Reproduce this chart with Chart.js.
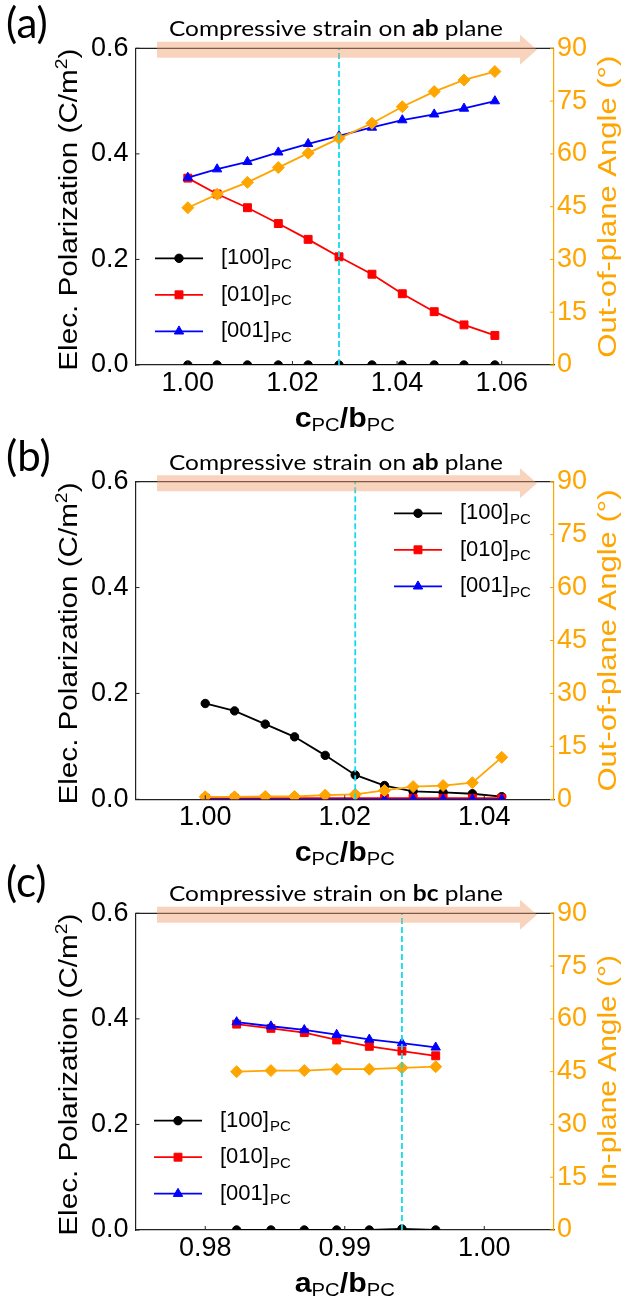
<!DOCTYPE html>
<html>
<head>
<meta charset="utf-8">
<script src="https://cdn.jsdelivr.net/npm/chart.js@4.4.0/dist/chart.umd.min.js"></script>
<style>
html, body { margin: 0; padding: 0; background: #fff; }
canvas { position: absolute; left: 0; display: block; }
</style>
</head>
<body>
<canvas id="panelA" width="627" height="440" style="top:0px"></canvas>
<canvas id="panelB" width="627" height="450" style="top:425px"></canvas>
<canvas id="panelC" width="627" height="455" style="top:850px"></canvas>
<script>
// (a) compressive strain on ab plane, x = c/b
var xA = [1.000, 1.0056, 1.0114, 1.0173, 1.0230, 1.0289, 1.0352, 1.0410, 1.0471, 1.0528, 1.0587];
var p100A = [0, 0, 0, 0, 0, 0, 0, 0, 0, 0, 0];
var p010A = [0.354, 0.324, 0.298, 0.268, 0.238, 0.205, 0.172, 0.135, 0.101, 0.076, 0.056];
var p001A = [0.355, 0.371, 0.385, 0.403, 0.419, 0.434, 0.450, 0.464, 0.475, 0.486, 0.500];
var angleA = [44.7, 48.5, 51.9, 56.1, 60.2, 64.4, 68.7, 73.4, 77.7, 81.0, 83.4];
var cutA = 1.0289;
var xTicksA = [1.00, 1.02, 1.04, 1.06];

// (b) compressive strain on ab plane, second branch
var xB = [1.000, 1.0042, 1.0086, 1.0128, 1.0172, 1.0215, 1.0257, 1.0298, 1.0341, 1.0383, 1.0425];
var p100B = [0.181, 0.167, 0.142, 0.118, 0.083, 0.046, 0.026, 0.015, 0.013, 0.0105, 0.005];
var p010B = [0.002, 0.002, 0.002, 0.002, 0.002, 0.002, 0.002, 0.002, 0.002, 0.002, 0.002];
var p001B = [0, 0, 0, 0, 0, 0, 0, 0, 0, 0, 0];
var angleB = [0.7, 0.7, 0.8, 0.8, 1.2, 1.4, 2.5, 3.6, 3.9, 4.7, 11.9];
var cutB = 1.0215;
var xTicksB = [1.00, 1.02, 1.04];

// (c) compressive strain on bc plane, x = a/b
var xC = [0.98225, 0.98471, 0.98710, 0.98942, 0.99176, 0.99410, 0.99652];
var p100C = [0, 0, 0, 0, 0, 0.002, 0];
var p010C = [0.390, 0.382, 0.374, 0.360, 0.348, 0.339, 0.330];
var p001C = [0.394, 0.386, 0.379, 0.370, 0.361, 0.354, 0.346];
var angleC = [45.0, 45.3, 45.3, 45.7, 45.7, 46.1, 46.4];
var cutC = 0.9941;
var xTicksC = [0.98, 0.99, 1.00];

var polTicks = [0, 0.2, 0.4, 0.6];
var angleTicks = [0, 15, 30, 45, 60, 75, 90];

var ORANGE = '#FFA500';
var CYAN = '#14DCEB';
var SPINE = '#222';
var SANS = "'Liberation Sans', Arial, sans-serif";
var TICK_FONT = {family: 'Liberation Sans', size: 27};

function pts(xs, ys) {
    return xs.map(function(x, i) { return {x: x, y: ys[i]}; });
}

// draws text made of pieces (text, font, dy), stretched to a given width
function drawParts(ctx, parts, x, y, targetW) {
    var w = 0;
    parts.forEach(function(p) { ctx.font = p[1]; w += ctx.measureText(p[0]).width; });
    var k = targetW ? targetW / w : 1;
    ctx.save();
    ctx.translate(x, y);
    ctx.scale(k, 1);
    ctx.textAlign = 'left';
    ctx.textBaseline = 'alphabetic';
    var cx = -w / 2;
    parts.forEach(function(p) {
        ctx.font = p[1];
        ctx.fillText(p[0], cx, p[2] || 0);
        cx += ctx.measureText(p[0]).width;
    });
    ctx.restore();
}

function makeFrame(p, sets) {
    return {
        id: 'frame',
        afterDraw: function(chart) {
            var ctx = chart.ctx, a = chart.chartArea;
            var sx = chart.scales.x, sy = chart.scales.y, sy1 = chart.scales.y1;
            var midY = (a.top + a.bottom) / 2;
            ctx.save();

            // top spine and inward ticks
            ctx.strokeStyle = SPINE;
            ctx.lineWidth = 1.2;
            ctx.beginPath();
            ctx.moveTo(a.left, a.top);
            ctx.lineTo(a.right, a.top);
            ctx.stroke();
            ctx.lineWidth = 1;
            ctx.beginPath();
            sx.ticks.forEach(function(t) {
                var px = sx.getPixelForValue(t.value);
                ctx.moveTo(px, a.bottom); ctx.lineTo(px, a.bottom - 4);
            });
            sy.ticks.forEach(function(t) {
                var py = sy.getPixelForValue(t.value);
                ctx.moveTo(a.left, py); ctx.lineTo(a.left + 4, py);
            });
            ctx.stroke();
            ctx.strokeStyle = ORANGE;
            ctx.beginPath();
            sy1.ticks.forEach(function(t) {
                var py = sy1.getPixelForValue(t.value);
                ctx.moveTo(a.right, py); ctx.lineTo(a.right - 4, py);
            });
            ctx.stroke();

            // strain arrow
            var ay = a.top + 1.5;
            ctx.fillStyle = 'rgba(240,160,110,0.45)';
            ctx.beginPath();
            ctx.moveTo(157, ay - 8);
            ctx.lineTo(520, ay - 8);
            ctx.lineTo(520, ay - 15);
            ctx.lineTo(537, ay);
            ctx.lineTo(520, ay + 15);
            ctx.lineTo(520, ay + 8);
            ctx.lineTo(157, ay + 8);
            ctx.closePath();
            ctx.fill();

            // title above the arrow
            ctx.fillStyle = '#000';
            drawParts(ctx, [
                ['Compressive strain on ', "22px Lato"],
                [p.plane, "bold 22px Lato"],
                [' plane', "22px Lato"]
            ], 336, a.top - 12, 334);

            // panel letter
            ctx.font = "42px Lato";
            ctx.textAlign = 'left';
            ctx.textBaseline = 'middle';
            ctx.fillText(p.letter, 6, a.top + p.letterDy);

            // x axis title
            drawParts(ctx, [
                [p.num, "bold 27px " + SANS, 0],
                ['PC', "18px " + SANS, 4],
                ['/', "bold 27px " + SANS, 0],
                ['b', "bold 27px " + SANS, 0],
                ['PC', "18px " + SANS, 4]
            ], (a.left + a.right) / 2, a.bottom + 62, 100);

            // left y axis title
            ctx.save();
            ctx.translate(77, midY + 3);
            ctx.rotate(-Math.PI / 2);
            drawParts(ctx, [
                ['Elec. Polarization (C/m', "26px " + SANS, 0],
                ['2', "17px " + SANS, -10],
                [')', "26px " + SANS, 0]
            ], 0, 0, 322);
            ctx.restore();

            // right y axis title
            ctx.save();
            ctx.fillStyle = ORANGE;
            ctx.translate(616, midY);
            ctx.rotate(-Math.PI / 2);
            drawParts(ctx, [[p.angleTitle, "26px " + SANS, 0]], 0, 0, p.angleTitleW);
            ctx.restore();

            // legend
            sets.forEach(function(s, i) {
                var y = a.top + p.legendDy + i * 36.5;
                var x = p.legendX;
                ctx.strokeStyle = s.color;
                ctx.fillStyle = s.color;
                ctx.lineWidth = 1.8;
                ctx.beginPath();
                ctx.moveTo(x, y);
                ctx.lineTo(x + 48, y);
                ctx.stroke();
                ctx.lineWidth = 1;
                Chart.helpers.drawPoint(ctx, {pointStyle: s.style, radius: s.r, borderWidth: 1, rotation: 0}, x + 24, y);
                ctx.fillStyle = '#000';
                ctx.textAlign = 'left';
                ctx.textBaseline = 'alphabetic';
                ctx.font = "22px " + SANS;
                ctx.fillText(s.label, x + 66, y + 6);
                var lw = ctx.measureText(s.label).width;
                ctx.font = "15px " + SANS;
                ctx.fillText('PC', x + 66 + lw + 1, y + 10.5);
            });

            ctx.restore();
        }
    };
}

function buildPanel(p) {
    var sets = [
        {label: '[100]', ys: p.p100, color: '#000000', style: 'circle', r: 4.2, order: 3},
        {label: '[010]', ys: p.p010, color: '#FF0000', style: 'rect', r: 5.6, order: 2},
        {label: '[001]', ys: p.p001, color: '#0000FF', style: 'triangle', r: 5.4, order: 1}
    ];
    var datasets = sets.map(function(s) {
        return {
            label: s.label, data: pts(p.x, s.ys), yAxisID: 'y', order: s.order,
            borderColor: s.color, backgroundColor: s.color, borderWidth: 1.8,
            pointStyle: s.style, pointRadius: s.r, pointBorderWidth: 1, clip: 0
        };
    });
    datasets.push({
        label: 'angle', data: pts(p.x, p.angle), yAxisID: 'y1', order: 0,
        borderColor: ORANGE, backgroundColor: ORANGE, borderWidth: 1.8,
        pointStyle: 'rectRot', pointRadius: 6, pointBorderWidth: 1, clip: 0
    });
    datasets.push({
        label: 'boundary', data: [{x: p.cut, y: 0}, {x: p.cut, y: 0.6}], yAxisID: 'y', order: -1,
        borderColor: CYAN, borderWidth: 1.8, borderDash: [6, 3], pointRadius: 0, clip: 0
    });

    new Chart(document.getElementById(p.id), {
        type: 'line',
        data: {datasets: datasets},
        plugins: [makeFrame(p, sets)],
        options: {
            responsive: false,
            animation: false,
            devicePixelRatio: 1,
            events: [],
            layout: {padding: {left: 0, right: 0, top: p.top, bottom: 0}},
            plugins: {legend: {display: false}, tooltip: {enabled: false}},
            scales: {
                x: {
                    type: 'linear', min: p.xMin, max: p.xMax,
                    afterBuildTicks: function(s) { s.ticks = p.xTicks.map(function(v) { return {value: v}; }); },
                    afterFit: function(s) { s.height = p.xAxisH; },
                    ticks: {
                        font: TICK_FONT, color: '#000', padding: 2, maxRotation: 0, autoSkip: false,
                        callback: function(v) { return v.toFixed(p.xDigits); }
                    },
                    grid: {display: false, drawTicks: false},
                    border: {display: true, color: SPINE, width: 1.2}
                },
                y: {
                    type: 'linear', position: 'left', min: 0, max: 0.6,
                    afterBuildTicks: function(s) { s.ticks = polTicks.map(function(v) { return {value: v}; }); },
                    afterFit: function(s) { s.width = 135.5; },
                    ticks: {
                        font: TICK_FONT, color: '#000', padding: 7, autoSkip: false,
                        callback: function(v) { return v.toFixed(1); }
                    },
                    grid: {display: false, drawTicks: false},
                    border: {display: true, color: SPINE, width: 1.2}
                },
                y1: {
                    type: 'linear', position: 'right', min: 0, max: 90,
                    afterBuildTicks: function(s) { s.ticks = angleTicks.map(function(v) { return {value: v}; }); },
                    afterFit: function(s) { s.width = 73; },
                    ticks: {
                        font: TICK_FONT, color: ORANGE, padding: 3, autoSkip: false,
                        callback: function(v) { return String(v); }
                    },
                    grid: {display: false, drawTicks: false},
                    border: {display: true, color: ORANGE, width: 1.2}
                }
            }
        }
    });
}

buildPanel({
    id: 'panelA', top: 48.3, xAxisH: 75, xMin: 0.99, xMax: 1.07, xTicks: xTicksA, xDigits: 2,
    x: xA, p100: p100A, p010: p010A, p001: p001A, angle: angleA, cut: cutA,
    letter: '(a)', letterDy: -23.5, plane: 'ab', num: 'c',
    angleTitle: 'Out-of-plane Angle (°)', angleTitleW: 302,
    legendX: 155, legendDy: 210
});
buildPanel({
    id: 'panelB', top: 56.7, xAxisH: 75.7, xMin: 0.99, xMax: 1.05, xTicks: xTicksB, xDigits: 2,
    x: xB, p100: p100B, p010: p010B, p001: p001B, angle: angleB, cut: cutB,
    letter: '(b)', letterDy: -24.5, plane: 'ab', num: 'c',
    angleTitle: 'Out-of-plane Angle (°)', angleTitleW: 302,
    legendX: 394, legendDy: 31.6
});
buildPanel({
    id: 'panelC', top: 63.3, xAxisH: 75, xMin: 0.975, xMax: 1.005, xTicks: xTicksC, xDigits: 2,
    x: xC, p100: p100C, p010: p010C, p001: p001C, angle: angleC, cut: cutC,
    letter: '(c)', letterDy: -30, plane: 'bc', num: 'a',
    angleTitle: 'In-plane Angle (°)', angleTitleW: 233,
    legendX: 154, legendDy: 207.4
});
</script>
</body>
</html>
